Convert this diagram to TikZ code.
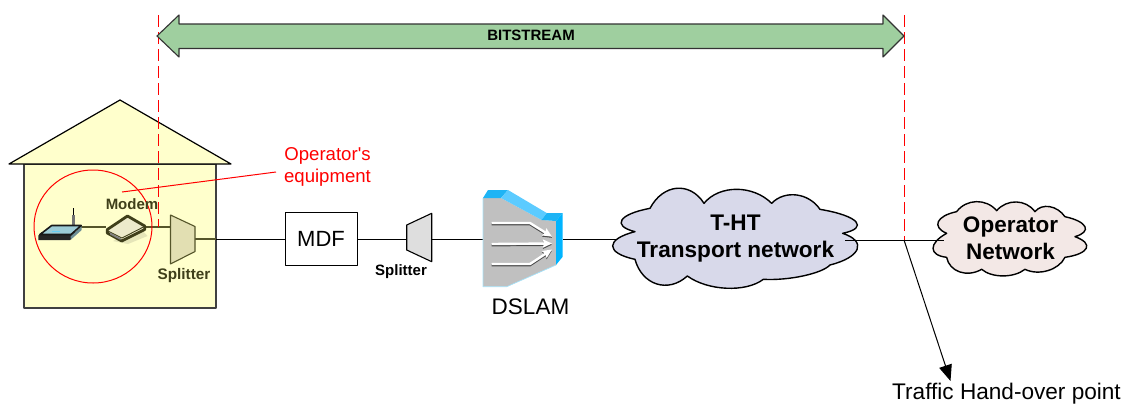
\documentclass[tikz,border=0pt]{standalone}
\usepackage{fontspec}
\setmainfont{Liberation Sans}
\newfontfamily\plainsans{Liberation Sans}
\usetikzlibrary{calc,arrows.meta,shapes.geometric}
\definecolor{housefill}{HTML}{FFFFCC}
\definecolor{olivetext}{HTML}{3F3F1A}
\definecolor{oliveline}{HTML}{55552A}
\definecolor{splitA}{HTML}{E2DFB2}
\definecolor{greenar}{HTML}{9FCF9F}
\definecolor{cloudA}{HTML}{D8D9EA}
\definecolor{cloudB}{HTML}{F3E8E6}
\definecolor{dsgray}{HTML}{C0C0C0}
\definecolor{dsblue}{HTML}{1EB4F5}
\definecolor{dslight}{HTML}{5CCBFF}
\definecolor{dsside}{HTML}{00B4FF}
\definecolor{screenblue}{HTML}{9CCBD6}
\definecolor{modemtop}{HTML}{ECEACB}
\newcommand{\fsz}[1]{\fontsize{#1}{#1}\selectfont}
\newcommand{\bp}[3]{.. controls ($1.333*#2+0.083*#1-0.417*#3$) and ($1.333*#2-0.417*#1+0.083*#3$) .. #3}
\tikzset{
  link/.style={draw=black,line width=1pt},
  olink/.style={draw=oliveline,line width=1.1pt},
  redline/.style={draw=red,line width=1pt},
  reddash/.style={draw=red,line width=1pt,dash pattern=on 12pt off 5pt},
  cloudline/.style={draw=black,line width=1.4pt},
  lbl/.style={inner sep=0pt,align=center},
  dsarrow/.style={line width=2.4pt,-{Stealth[length=9pt,width=8pt,inset=1pt]}},
}
\begin{document}
\begin{tikzpicture}[x=1pt,y=-1pt,line join=round]
\useasboundingbox (0,0) rectangle (1125,405);
% House
\draw[fill=housefill,draw=black!75,line width=1.1pt] (24,164) rectangle (216,308);
\draw[fill=housefill,draw=black,line width=1.2pt] (9,164) -- (120,100) -- (231,164) -- cycle;
% coordinates
\coordinate (routerport) at (81,227);
\coordinate (modemL) at (106,227);
\coordinate (modemR) at (146,227);
\coordinate (splAin) at (170,227);
\coordinate (splAout) at (195,239);
\coordinate (wall) at (216,239);
\coordinate (splBin) at (407,239);
\coordinate (splBout) at (432,239);
\coordinate (dslamL) at (483,239);
\coordinate (dslamR) at (563,239);
\coordinate (thtL) at (616,239);
\coordinate (thtR) at (845,240);
\coordinate (hand) at (904,240);
\coordinate (opL) at (944,240);
\coordinate (handtip) at (950.5,381);
% Links in house
\draw[olink] (routerport) -- (modemL);
\draw[olink] (modemR) -- (splAin);
\draw[olink] (splAout) -- (wall);
% Splitter A
\draw[fill=splitA,draw=oliveline,line width=1.1pt] (170.5,215) -- (195,226.5) -- (195,251.5) -- (170.5,264) -- cycle;
% Router
\draw[draw=black,line width=0.9pt] (73.3,208) -- (73.3,226);
\fill[black!55] (72,215) rectangle (74.7,226);
\fill[black!85] (38.3,235.5) -- (42,232) -- (78,232) -- (70,240) -- (38.3,240) -- cycle;
\fill[screenblue!70!black] (70.5,236.5) -- (81.7,226) -- (81.7,230) -- (71,239.5) -- cycle;
\draw[fill=screenblue,draw=black!90,line width=1.6pt] (40,234.5) -- (51.7,225.5) -- (81.2,225.5) -- (71,234.5) -- cycle;
\draw[draw=white!40!cyan,line width=1pt] (52,231.5) -- (60,231.5);
% Modem
\fill[black!10!housefill] (113,241) -- (140,228) -- (147.5,236) -- (128,244) -- cycle;
\draw[fill=modemtop,draw=olivetext,line width=2.8pt] (107.3,229.5) -- (127.5,216) -- (144.7,226) -- (144.7,229.5) -- (121.7,241) -- (107.3,233) -- cycle;
\draw[draw=olivetext,line width=0.9pt] (108,231) -- (122,238) -- (144,226.7);
\fill[black!50] (110,232.5) -- (120.5,238) -- (120.5,240) -- (110,234.5) -- cycle;
% Main links
\node[draw=black,fill=white,line width=1pt,minimum width=72pt,minimum height=53pt,inner sep=0pt,font=\fsz{22}] (mdf) at (321,238.5) {MDF};
\draw[link] (wall) -- (mdf.west |- wall);
\draw[link] (mdf.east |- splBin) -- (splBin);
\draw[link] (splBout) -- (dslamL);
\draw[link] (dslamR) -- (thtL);
% Splitter B
\draw[fill=black!13,draw=black,line width=1.1pt] (406.7,225) -- (431.7,213.3) -- (431.7,261.7) -- (406.7,250) -- cycle;
% DSLAM
\fill[dsgray] (483,198) -- (501,198) -- (541.7,220) -- (556,221) -- (556,265) -- (506.7,286.7) -- (483,286.7) -- cycle;
\draw[cyan!35,line width=0.7pt] (483,198) -- (483,286.7) -- (506.7,286.7) -- (556,265);
\fill[dsblue] (483,198) -- (488,190) -- (508,190) -- (501,198) -- cycle;
\fill[dslight] (508,190) -- (546.7,213) -- (541.7,220) -- (501,198) -- cycle;
\fill[dsblue] (546.7,213) -- (562.7,213) -- (556,221) -- (541.7,220) -- cycle;
\fill[dsside] (556,221) -- (562.7,213) -- (562.7,256.7) -- (556,265) -- cycle;
\foreach \dy/\cl in {1.2/black!70,0/white}{
  \draw[\cl,dsarrow] (491.7,223+\dy) -- (530,223+\dy) -- (552,236.7+\dy);
  \draw[\cl,dsarrow] (491.7,244+\dy) -- (552,243.5+\dy);
  \draw[\cl,dsarrow] (491.7,264+\dy) -- (530,264+\dy) -- (552,249.5+\dy);
}
% T-HT cloud
\begin{scope}[shift={(600,170)},x=0.3333pt,y=-0.3333pt]
\draw[cloudline,fill=cloudA] (150,115) \bp{(150,115)}{(230,55)}{(312,100)} \bp{(312,100)}{(410,58)}{(515,100)} \bp{(515,100)}{(590,75)}{(660,118)} \bp{(660,118)}{(768,155)}{(728,190)} \bp{(728,190)}{(772,238)}{(690,285)} \bp{(690,285)}{(610,318)}{(490,328)} \bp{(490,328)}{(380,355)}{(262,318)} \bp{(262,318)}{(170,342)}{(105,268)} \bp{(105,268)}{(38,228)}{(105,185)} \bp{(105,185)}{(66,150)}{(150,115)} -- cycle;
\draw[cloudline,fill=cloudB] (1070,125) \bp{(1070,125)}{(1130,95)}{(1190,122)} \bp{(1190,122)}{(1250,96)}{(1305,125)} \bp{(1305,125)}{(1350,110)}{(1395,140)} \bp{(1395,140)}{(1456,170)}{(1425,200)} \bp{(1425,200)}{(1460,235)}{(1395,262)} \bp{(1395,262)}{(1345,302)}{(1275,298)} \bp{(1275,298)}{(1210,318)}{(1145,298)} \bp{(1145,298)}{(1080,306)}{(1040,262)} \bp{(1040,262)}{(1000,235)}{(1040,190)} \bp{(1040,190)}{(1016,155)}{(1070,125)} -- cycle;
\end{scope}
\draw[link] (thtR) -- (opL);
% Dashed red
\coordinate (dA1) at (158,15); \coordinate (dA2) at (158,227);
\coordinate (dB1) at (904,15); \coordinate (dB2) at (904,240);
\draw[reddash] (dA1) -- (dA2);
\draw[reddash] (dB1) -- (dB2);
% Big arrow
\draw[fill=greenar,draw=black!80,line width=1.1pt] (157,36) -- (179,15) -- (179,24) -- (883,24) -- (883,15) -- (904,36) -- (883,57) -- (883,48.5) -- (179,48.5) -- (179,57) -- cycle;
\node[lbl,font=\bfseries\fsz{15}] (bits) at (531,35.5) {BITSTREAM};
% Red ellipse and label
\node[draw=red,line width=1pt,ellipse,minimum width=118pt,minimum height=113pt,inner sep=0pt] (circ) at (93,226.5) {};
\coordinate (redend) at (122,192);
\node[lbl,text=red,font=\plainsans\fsz{18.6}] (oper) at (327.5,167) {Operator's\\[4pt]equipment};
\draw[redline] (redend) -- (276,172);
% Labels
\node[lbl,text=olivetext,font=\bfseries\fsz{15}] (modem) at (132,204) {Modem};
\node[lbl,text=olivetext,font=\bfseries\fsz{15.3}] (splAl) at (184,276) {Splitter};
\node[lbl,font=\bfseries\fsz{15}] (splBl) at (401,272) {Splitter};
\node[lbl,font=\fsz{22.5}] (dslam) at (530.5,307) {DSLAM};
\node[lbl,font=\bfseries\fsz{22.6}] (tht) at (735.5,238.5) {T-HT\\[5pt]Transport network};
\node[lbl,font=\bfseries\fsz{22.5}] (opn) at (1010.5,238.5) {Operator\\[4.5pt]Network};
\node[lbl,font=\fsz{22.6}] (traffic) at (1006.5,394) {Traffic Hand-over point};
% Hand-over arrow
\draw[draw=black,line width=1pt,-{Triangle[length=16pt,width=13pt]}] (hand) -- (handtip);
\end{tikzpicture}
\end{document}
